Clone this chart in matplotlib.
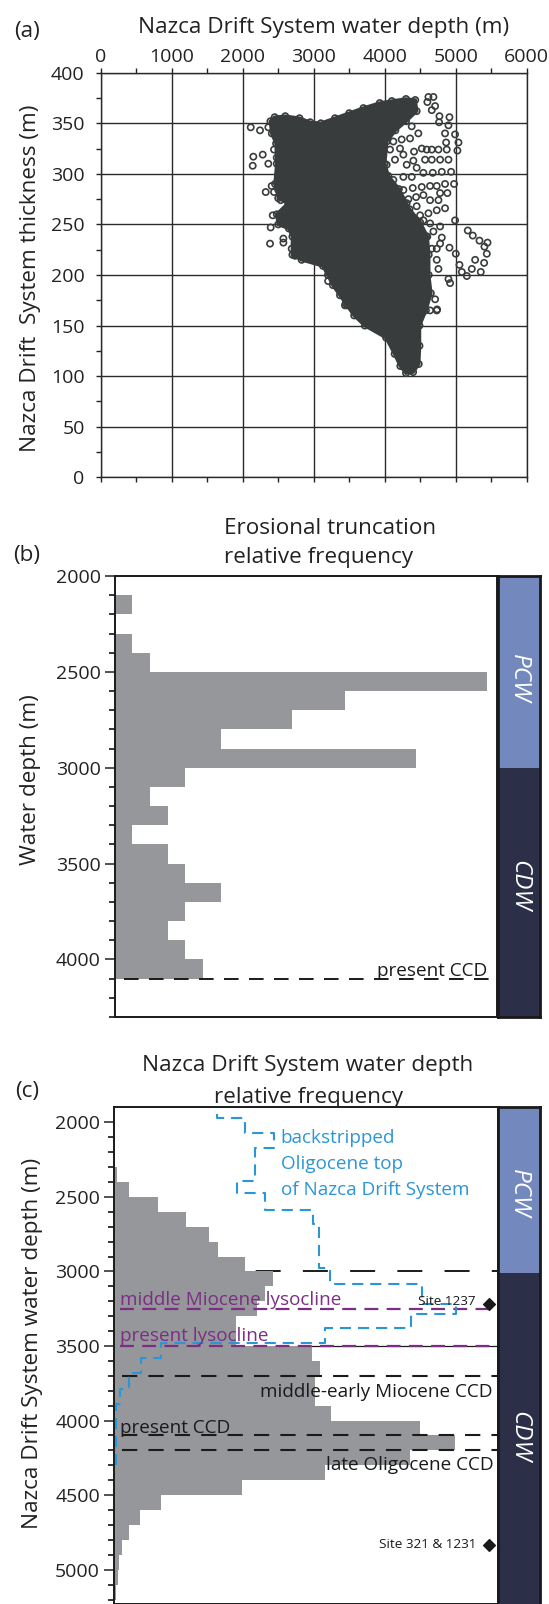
import numpy as np
import matplotlib
matplotlib.use('Agg')
import matplotlib.pyplot as plt
from matplotlib.patches import Polygon

plt.rcParams['font.family'] = ['Open Sans', 'DejaVu Sans']
plt.rcParams['lines.scale_dashes'] = False

# ---------------- data ----------------
# (a) dense core of the scatter cloud (outline, water depth m / thickness m)
cloud_depth = [2390, 2450, 2600, 2800, 2950, 3100, 3300, 3500, 3700, 3930,
               4100, 4300, 4430, 4450, 4300, 4150, 4030, 4000, 4050, 4200,
               4350, 4500, 4600, 4620, 4620, 4650, 4580, 4490, 4490, 4480,
               4400, 4300, 4220, 4140, 4020, 3720, 3570, 3470, 3370, 3270,
               3200, 3130, 2830, 2700, 2700, 2650, 2500, 2480, 2640, 2500,
               2500, 2455, 2480, 2470, 2410]
cloud_thick = [352, 356, 357, 355, 351, 350, 355, 360, 365, 370,
               372, 374, 373, 362, 352, 343, 332, 310, 298, 285,
               265, 252, 238, 220, 200, 182, 165, 150, 130, 112,
               104, 103, 110, 122, 138, 150, 160, 170, 180, 190,
               200, 209, 215, 220, 238, 246, 250, 260, 271, 276,
               284, 290, 310, 330, 340]
# (a) individual circles outside the dense core
pts_depth = [4616, 4686, 4601, 4710, 4663, 4771, 4912, 4898, 4766, 4850,
             4991, 4865, 5039, 5024, 4874, 4757, 4663, 4592, 4522, 4413,
             4404, 4569, 4663, 4780, 4898, 4545, 4677, 4804, 4935, 4381,
             4263, 4850, 4977, 4733, 4639, 4522, 4395, 4263, 4780, 4883,
             4545, 4442, 4334, 4639, 4757, 4850, 4733, 4616, 4498, 4991,
             4780, 4686, 4804, 4780, 4733, 4912, 5001, 4733, 4757, 4898,
             4921, 5170, 5241, 5335, 5448, 5405, 5438, 5274, 5400, 5053,
             5086, 5157, 5227, 5353, 4710, 4733, 4639, 3440, 3581,
             2113, 2244, 2361, 2282, 2150, 2141, 2361, 2479, 2441, 2408,
             2324, 2441, 2535, 2423, 2394, 2385, 2573, 2573, 2690, 2737,
             2901, 3019, 3160, 3203, 3277, 3450, 4738,
             4075, 4192, 4310, 4380, 4474, 4357, 4239, 4122, 4216, 4075,
             4263, 4145, 4028, 4310, 4450, 4122, 4028, 4169, 4310, 4450,
             4192, 4357, 4545, 4639, 4592, 4663]
pts_thick = [376, 376, 371, 367, 363, 357, 356, 348, 351, 340,
             339, 331, 331, 323, 324, 324, 324, 324, 325, 322,
             313, 314, 314, 314, 314, 301, 301, 302, 302, 297,
             297, 290, 290, 288, 288, 287, 286, 284, 281, 281,
             279, 277, 275, 274, 274, 266, 264, 261, 259, 254,
             248, 243, 237, 231, 226, 227, 221, 215, 206, 196,
             192, 244, 239, 234, 232, 228, 221, 215, 212, 210,
             203, 199, 206, 203, 176, 165, 165, 170, 167,
             346, 343, 346, 319, 317, 308, 310, 316, 324, 288,
             282, 282, 274, 259, 247, 231, 236, 232, 226, 219,
             219, 215, 210, 194, 194, 172, 166,
             360, 362, 360, 347, 340, 335, 334, 332, 325, 324,
             319, 314, 309, 309, 306, 294, 288, 278, 271, 268,
             263, 258, 254, 251, 238, 226]

# (b) erosional truncation histogram (bin tops, m; counts)
eros_bin_top = [2100, 2200, 2300, 2400, 2500, 2600, 2700, 2800, 2900, 3000,
                3100, 3200, 3300, 3400, 3500, 3600, 3700, 3800, 3900, 4000]
eros_count = [1, 0, 1, 2, 21, 13, 10, 6, 17, 4,
              2, 3, 1, 3, 4, 6, 4, 3, 4, 5]

# (c) Nazca Drift System water depth histogram (bin tops, m; relative frequency)
nds_bin_top = [2100, 2200, 2300, 2400, 2500, 2600, 2700, 2800, 2900, 3000,
               3100, 3200, 3300, 3400, 3500, 3600, 3700, 3800, 3900, 4000,
               4100, 4200, 4300, 4400, 4500, 4600, 4700, 4800, 4900, 5000,
               5100, 5200]
nds_freq = [0.34, 0.34, 0.70, 3.8, 11.4, 18.9, 24.9, 27.0, 34.2, 41.5,
            39.3, 37.4, 31.9, 31.9, 51.6, 53.7, 52.3, 52.3, 56.5, 79.7,
            88.8, 77.2, 55.0, 33.4, 12.2, 6.8, 3.9, 2.0, 1.3, 0.96,
            0.44, 0.26]
# backstripped Oligocene top (step curve: depth interval edges and values)
back_edges = [1945, 1974, 2069, 2171, 2392, 2472, 2591, 2681, 2978, 3085,
              3215, 3287, 3382, 3477, 3579, 3683, 3785, 3887, 4082, 4296]
back_freq = [26.8, 34.1, 41.8, 36.8, 32.2, 39.3, 51.9, 53.5, 56.4, 80.2,
             89.3, 77.4, 55.0, 12.2, 7.1, 3.8, 1.5, 0.55, 0.55]
# reference levels (m)
lys_mid_miocene = 3250
lys_present = 3500
ccd_mid_early_miocene = 3700
ccd_present = 4100
ccd_late_oligocene = 4200
pcw_cdw_boundary = 3000
site_names = ['Site 1237', 'Site 321 & 1231']
site_depth = [3220, 4832]

# ---------------- layout ----------------
W, H = 549, 1604
fig = plt.figure(figsize=(W / 100, H / 100), dpi=100)


def fx(px):
    return px / W


def fy(py):
    return 1 - py / H


def box(l, t, r, b):
    return [fx(l), fy(b), (r - l) / W, (b - t) / H]


DARK = '#393c3c'
GRAY = '#96979b'
PCWC = '#7389be'
CDWC = '#2b2f48'
PURP = '#7b2e84'
BLUE = '#2b96d6'
TXT = '#222222'
TICK_FS = 14
LAB_FS = 16.2
ANN_FS = 13.6

# ---------------- (a) ----------------
axa = fig.add_axes(box(100.7, 72.7, 526.7, 477.3))
axa.set_xlim(0, 6000)
axa.set_ylim(0, 400)
axa.add_patch(Polygon(np.column_stack([cloud_depth, cloud_thick]), closed=True,
                      facecolor=DARK, edgecolor=DARK, lw=2.5, zorder=3))
axa.scatter(cloud_depth, cloud_thick, s=20, facecolors='none', edgecolors=DARK,
            linewidths=1.2, zorder=3)
axa.scatter(pts_depth, pts_thick, s=20, facecolors='none', edgecolors=DARK,
            linewidths=1.2, zorder=3)
axa.set_xticks(np.arange(0, 6001, 1000))
axa.set_xticks(np.arange(500, 6000, 1000), minor=True)
axa.set_yticks(np.arange(0, 401, 50))
axa.set_yticks(np.arange(25, 400, 50), minor=True)
axa.grid(True, which='major', color='#2a2a2a', lw=1.0, zorder=1)
axa.tick_params(which='both', direction='out', top=True, bottom=True,
                labeltop=True, labelbottom=False, length=3.5, width=1.0,
                labelsize=TICK_FS, colors=TXT)
axa.tick_params(axis='x', pad=1)
axa.tick_params(axis='y', pad=8)
for s in axa.spines.values():
    s.set_linewidth(1.0)
    s.set_color('#2a2a2a')
axa.set_axisbelow(True)
fig.text(fx(324), fy(33), 'Nazca Drift System water depth (m)', ha='center',
         va='baseline', fontsize=LAB_FS, color=TXT)
fig.text(fx(30.5), fy(278), 'Nazca Drift  System thickness (m)', ha='center',
         va='center', rotation=90, fontsize=LAB_FS, color=TXT)
fig.text(fx(27), fy(31), '(a)', ha='center', va='center', fontsize=LAB_FS,
         color=TXT)


def style_depth_axis(ax, ylim):
    ax.set_ylim(*ylim)
    ax.set_yticks(np.arange(2000, ylim[0] + 1, 500))
    ax.set_yticks(np.arange(2100, ylim[0] + 1, 100), minor=True)
    ax.tick_params(axis='y', which='major', direction='out', length=7,
                   width=1.1, labelsize=TICK_FS, pad=3, colors=TXT)
    ax.tick_params(axis='y', which='minor', direction='out', length=4,
                   width=1.1)
    ax.set_xticks([])
    for s in ax.spines.values():
        s.set_linewidth(1.4)
        s.set_color('#1a1a1a')


def water_mass_bar(ax, ylim, pcw_y, cdw_y):
    ax.set_xlim(0, 1)
    ax.set_ylim(*ylim)
    ax.axhspan(ylim[1], pcw_cdw_boundary, color=PCWC, lw=0)
    ax.axhspan(pcw_cdw_boundary, ylim[0], color=CDWC, lw=0)
    ax.set_xticks([])
    ax.set_yticks([])
    for s in ax.spines.values():
        s.set_linewidth(2.0)
        s.set_color('#1a1a1a')
    ax.text(0.5, pcw_y, 'PCW', rotation=-90, style='italic', color='white',
            ha='center', va='center', fontsize=17.5)
    ax.text(0.5, cdw_y, 'CDW', rotation=-90, style='italic', color='white',
            ha='center', va='center', fontsize=17.5)


# ---------------- (b) ----------------
ylim_b = (4300, 2000)
axb = fig.add_axes(box(114.5, 576, 497.5, 1017))
axb.barh(eros_bin_top, eros_count, height=100, align='edge', color=GRAY,
         lw=0, zorder=2)
axb.set_xlim(0, 21.6)
style_depth_axis(axb, ylim_b)
axb.plot([0.55, 21.6], [ccd_present, ccd_present], color='#1a1a1a', lw=1.4,
         dashes=(10.5, 7.5), zorder=3)
axb.text(21.05, ccd_present - 14, 'present CCD', ha='right', va='baseline',
         fontsize=ANN_FS, color='#1a1a1a', zorder=4)
axb_cb = fig.add_axes(box(497.5, 576, 540, 1017))
water_mass_bar(axb_cb, ylim_b, 2536, 3614)
fig.text(fx(31), fy(780), 'Water depth (m)', ha='center', va='center',
         rotation=90, fontsize=LAB_FS, color=TXT)
fig.text(fx(224), fy(534), 'Erosional truncation', ha='left', va='baseline',
         fontsize=LAB_FS, color=TXT)
fig.text(fx(224), fy(563.5), 'relative frequency', ha='left', va='baseline',
         fontsize=LAB_FS, color=TXT)
fig.text(fx(27), fy(555), '(b)', ha='center', va='center', fontsize=LAB_FS,
         color=TXT)

# ---------------- (c) ----------------
ylim_c = (5230, 1895)
axc = fig.add_axes(box(114, 1106.7, 497.5, 1604))
axc.barh(nds_bin_top, nds_freq, height=100, align='edge', color=GRAY, lw=0,
         zorder=2)
axc.set_xlim(0, 100)
style_depth_axis(axc, ylim_c)
axc.set_ylim(*ylim_c)
# reference lines
axc.plot([0, 100], [pcw_cdw_boundary] * 2, color='#1a1a1a', lw=1.4,
         dashes=(18, 16), dash_capstyle='butt', zorder=1)
axc.plot([51.6, 100], [lys_present] * 2, color='#1a1a1a', lw=0.9, zorder=3)
for lvl in (ccd_mid_early_miocene, ccd_present, ccd_late_oligocene):
    axc.plot([2.0, 100], [lvl, lvl], color='#1a1a1a', lw=1.5,
             dashes=(11, 8), zorder=3)
for lvl in (lys_mid_miocene, lys_present):
    axc.plot([1.6, 100], [lvl, lvl], color=PURP, lw=1.6, dashes=(10, 6),
             zorder=3)
# backstripped step curve
bx, by = [], []
for i, v in enumerate(back_freq):
    bx += [v, v]
    by += [back_edges[i], back_edges[i + 1]]
axc.plot(bx, by, color=BLUE, lw=1.5, dashes=(8, 5), zorder=4, clip_on=False)
for txt, d in zip(['backstripped', 'Oligocene top', 'of Nazca Drift System'],
                  [2105, 2281, 2454]):
    axc.text(43.5, d, txt, color=BLUE, fontsize=ANN_FS, va='center',
             ha='left', zorder=5)
axc.text(1.6, 3223, 'middle Miocene lysocline', color=PURP, fontsize=ANN_FS,
         va='baseline', ha='left', zorder=5)
axc.text(1.6, 3467, 'present lysocline', color=PURP, fontsize=ANN_FS,
         va='baseline', ha='left', zorder=5)
axc.text(98.7, 3842, 'middle-early Miocene CCD', color='#1a1a1a',
         fontsize=ANN_FS, va='baseline', ha='right', zorder=5)
axc.text(1.6, 4080, 'present CCD', color='#1a1a1a', fontsize=ANN_FS,
         va='baseline', ha='left', zorder=5)
axc.text(99.1, 4334, 'late Oligocene CCD', color='#1a1a1a', fontsize=ANN_FS,
         va='baseline', ha='right', zorder=5)
for name, d, yt in zip(site_names, site_depth, [3201, 4832]):
    axc.scatter([97.8], [d], marker='D', s=36, color='#1a1a1a', zorder=6,
                clip_on=False)
    axc.text(94.4, yt, name, color='#1a1a1a', fontsize=9.7, va='center',
             ha='right', zorder=5)
axc_cb = fig.add_axes(box(497.5, 1106.7, 540, 1610))
water_mass_bar(axc_cb, ylim_c, 2467, 4080)
fig.text(fx(33), fy(1343), 'Nazca Drift System water depth (m)', ha='center',
         va='center', rotation=90, fontsize=LAB_FS, color=TXT)
fig.text(fx(308), fy(1071), 'Nazca Drift System water depth', ha='center',
         va='baseline', fontsize=LAB_FS, color=TXT)
fig.text(fx(308), fy(1103), 'relative frequency', ha='center', va='baseline',
         fontsize=LAB_FS, color=TXT)
fig.text(fx(27), fy(1091), '(c)', ha='center', va='center', fontsize=LAB_FS,
         color=TXT)

fig.savefig('out.png', dpi=100)
